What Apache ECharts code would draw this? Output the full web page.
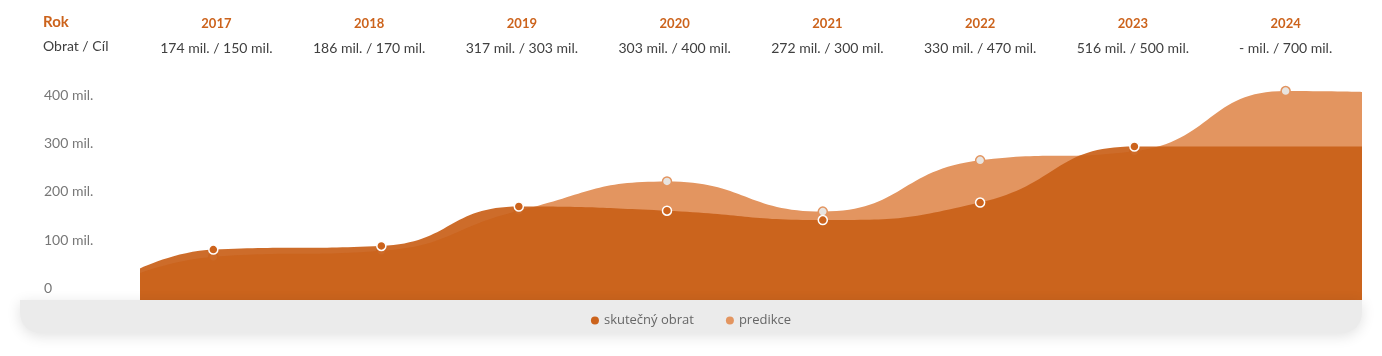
<!DOCTYPE html>
<html>
<head>
<meta charset="utf-8">
<script src="https://cdn.jsdelivr.net/npm/echarts@6/dist/echarts.min.js"></script>
<style>
html,body{margin:0;padding:0;background:#fff;}
#chart{width:1382px;height:356px;}
</style>
</head>
<body>
<div id="chart"></div>
<script>
// ---- data ----
const years = ['2017','2018','2019','2020','2021','2022','2023','2024'];
const obrat = [174, 186, 317, 303, 272, 330, 516, null];   // skutečný obrat (mil.)
const cil   = [150, 170, 303, 400, 300, 470, 500, 700];    // predikce / cíl (mil.)
// horizontal position of each point within the time span (fractional year)
const pointX = [2017.48, 2018.58, 2019.48, 2020.45, 2021.47, 2022.50, 2023.51, 2024.50];
// area values at left / right edge of the plot
const edgeX = [2017, 2025];
const obratEdge = [111, 516];
const cilEdge = [96, 697];
const yTickLabels = ['0', '100 mil.', '200 mil.', '300 mil.', '400 mil.'];
const rowLabels = ['Rok', 'Obrat / Cíl'];
const seriesNames = ['skutečný obrat', 'predikce'];

const C_DARK = '#cc631c';
const C_LIGHT = '#e39560';
const FONT = 'Lato';

function buildSeries(vals, edges) {
  const pts = [{value: [edgeX[0], edges[0]], symbol: 'none'}];
  vals.forEach((v, i) => { if (v != null) pts.push({value: [pointX[i], v]}); });
  pts.push({value: [edgeX[1], edges[1]], symbol: 'none'});
  return pts;
}

const chart = echarts.init(document.getElementById('chart'), null, {renderer: 'canvas'});
chart.setOption({
  animation: false,
  textStyle: {fontFamily: FONT},
  grid: {left: 140, right: 20, top: 76, bottom: 54},
  xAxis: [
    {type: 'value', min: edgeX[0], max: edgeX[1], show: false},
    {
      type: 'category', position: 'top', data: years, boundaryGap: true,
      axisLine: {show: false}, axisTick: {show: false}, splitLine: {show: false},
      axisLabel: {
        margin: 15,
        formatter: (v, i) => '{y|' + v + '}\n{v|' + (obrat[i] == null ? '-' : obrat[i]) + ' mil. / ' + cil[i] + ' mil.}',
        rich: {
          y: {fontFamily: FONT, fontSize: 13, fontWeight: 'bold', color: C_DARK, lineHeight: 25, align: 'center'},
          v: {fontFamily: FONT, fontSize: 14, color: '#404040', lineHeight: 25, align: 'center'}
        }
      }
    }
  ],
  yAxis: [
    {type: 'value', min: 0, max: 750, show: false},
    {
      type: 'value', position: 'left', min: 0, max: 468, interval: 100,
      axisLine: {show: false}, axisTick: {show: false}, splitLine: {show: false},
      axisLabel: {
        showMaxLabel: false,
        align: 'left', margin: 96, verticalAlign: 'bottom', lineHeight: 27,
        fontFamily: FONT, fontSize: 14, color: '#777',
        formatter: v => (v % 100 === 0 && yTickLabels[v / 100] != null) ? yTickLabels[v / 100] : ''
      }
    }
  ],
  legend: {
    data: [
      {name: seriesNames[0], itemStyle: {color: C_DARK, borderWidth: 0}},
      {name: seriesNames[1], itemStyle: {color: C_LIGHT, borderWidth: 0}}
    ],
    bottom: 24, left: 'center', icon: 'circle',
    itemWidth: 8, itemHeight: 8, itemGap: 32, z: 10,
    textStyle: {fontFamily: 'Open Sans', fontSize: 13, color: '#666'}
  },
  graphic: [
    {type: 'rect', z: 5, shape: {x: 20, y: 300, width: 1342, height: 33, r: [0, 0, 20, 20]},
     style: {fill: '#ebebeb', shadowBlur: 14, shadowColor: 'rgba(0,0,0,0.12)', shadowOffsetY: 3}},
    {type: 'text', left: 43, top: 15, style: {text: rowLabels[0], font: 'bold 15px Lato', fill: C_DARK}},
    {type: 'text', left: 43, top: 39, style: {text: rowLabels[1], font: '14px Lato', fill: '#404040'}}
  ],
  series: [
    {
      name: seriesNames[1], type: 'line', xAxisIndex: 0, yAxisIndex: 0,
      smooth: 0.5, data: buildSeries(cil, cilEdge),
      symbol: 'circle', symbolSize: 9, showAllSymbol: true,
      lineStyle: {width: 0},
      itemStyle: {color: '#e8e4e0', borderColor: C_LIGHT, borderWidth: 1.5},
      areaStyle: {color: C_LIGHT, opacity: 1},
      z: 2
    },
    {
      name: seriesNames[0], type: 'line', xAxisIndex: 0, yAxisIndex: 0,
      smooth: 0.5, data: buildSeries(obrat, obratEdge),
      symbol: 'circle', symbolSize: 9, showAllSymbol: true,
      lineStyle: {width: 0},
      itemStyle: {color: C_DARK, borderColor: '#ffffff', borderWidth: 1.5},
      areaStyle: {color: 'rgb(201,95,24)', opacity: 0.92},
      z: 3
    }
  ]
});
</script>
</body>
</html>
